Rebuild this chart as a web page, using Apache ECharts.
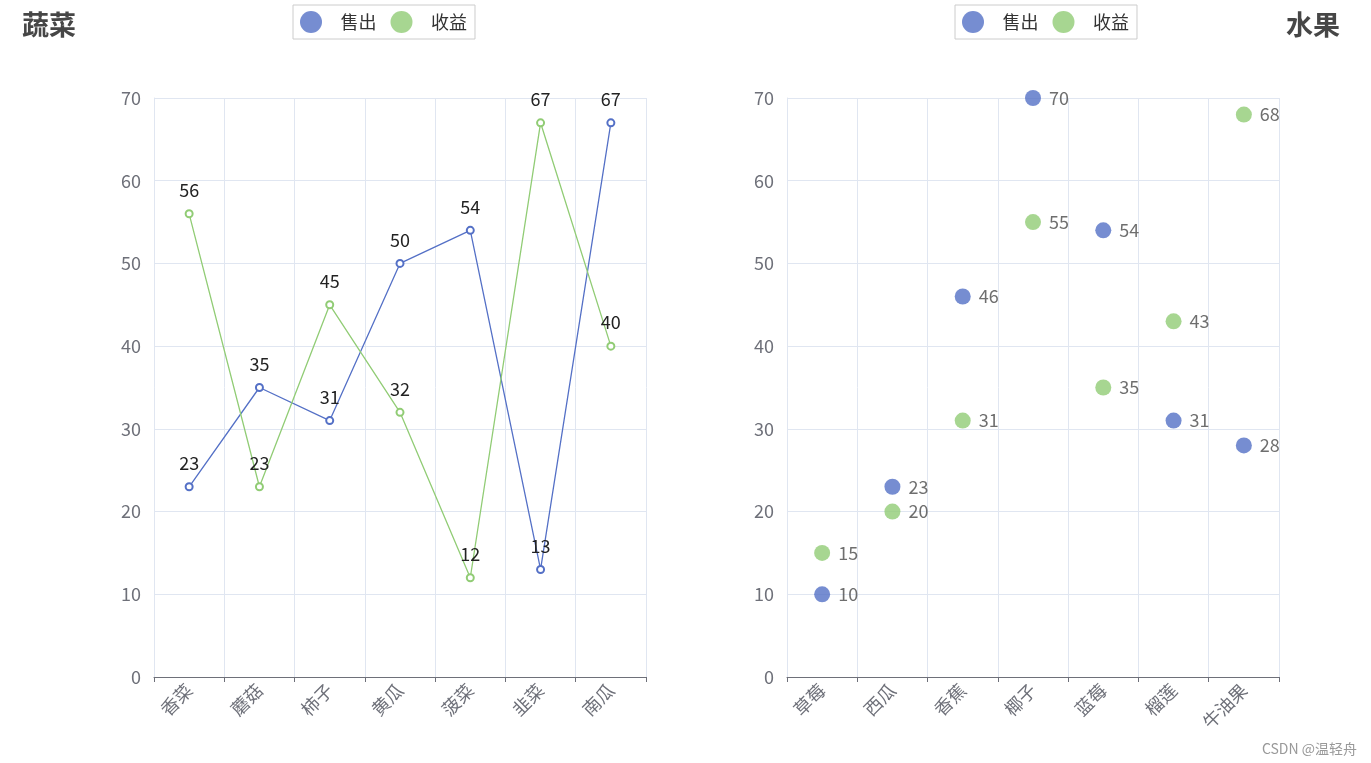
<!DOCTYPE html>
<html>
<head>
<meta charset="utf-8">
<script src="https://cdn.jsdelivr.net/npm/echarts@6/dist/echarts.min.js"></script>
<style>
html,body{margin:0;padding:0;background:#fff;}
#main{width:1371px;height:763px;}
</style>
</head>
<body>
<div id="main"></div>
<script>
const vegCategories = ['香菜', '蘑菇', '柿子', '黄瓜', '菠菜', '韭菜', '南瓜'];
const vegSold = [23, 35, 31, 50, 54, 13, 67];
const vegProfit = [56, 23, 45, 32, 12, 67, 40];
const fruitCategories = ['草莓', '西瓜', '香蕉', '椰子', '蓝莓', '榴莲', '牛油果'];
const fruitSold = [10, 23, 46, 70, 54, 31, 28];
const fruitProfit = [15, 20, 31, 55, 35, 43, 68];
const seriesNames = ['售出', '收益'];
const yTicks = [0, 10, 20, 30, 40, 50, 60, 70];

const FONT = '"Microsoft YaHei","Noto Sans CJK SC",sans-serif';
const chart = echarts.init(document.getElementById('main'));

const axisLabel = { fontSize: 18, color: '#6E7079', fontFamily: FONT };
function xAxis(gridIndex, data) {
  return {
    type: 'category', gridIndex, data,
    boundaryGap: true,
    axisTick: { show: true, alignWithLabel: false },
    axisLine: { lineStyle: { color: '#6E7079' } },
    splitLine: { show: true, lineStyle: { color: '#E0E6F1' } },
    axisLabel: Object.assign({ rotate: 45, margin: 10, interval: 0 }, axisLabel)
  };
}
function yAxis(gridIndex) {
  return {
    type: 'value', gridIndex, min: yTicks[0], max: yTicks[yTicks.length - 1], interval: 10,
    axisLine: { show: true, lineStyle: { color: '#E0E6F1' } },
    splitLine: { lineStyle: { color: '#E0E6F1' } },
    axisLabel: Object.assign({ margin: 13 }, axisLabel)
  };
}
const legendBase = {
  data: seriesNames,
  icon: 'circle',
  itemWidth: 25, itemHeight: 22,
  itemGap: 14,
  borderColor: '#ccc', borderWidth: 1,
  padding: [6, 8, 6, 7],
  top: 5,
  itemStyle: { opacity: 0.8 },
  textStyle: { fontSize: 18, color: '#333', fontFamily: FONT, padding: [0, 0, 0, 12] }
};
const lineLabel = { show: true, position: 'top', distance: 10, fontSize: 18, color: '#222', fontFamily: FONT };
const scatterLabel = { show: true, position: 'right', distance: 8, fontSize: 18, color: '#4a4a4a', fontFamily: FONT };

chart.setOption({
  color: ['#5470c6', '#91cc75'],
  title: [
    { text: '蔬菜', left: 17, top: 6, textStyle: { fontSize: 27, fontWeight: 'bold', color: '#464646', fontFamily: FONT } },
    { text: '水果', right: 26, top: 6, textStyle: { fontSize: 27, fontWeight: 'bold', color: '#464646', fontFamily: FONT } }
  ],
  legend: [
    Object.assign({ left: 293 }, legendBase),
    Object.assign({ left: 955 }, legendBase)
  ],
  grid: [
    { left: 154, right: 725, top: 98, bottom: 86 },
    { left: 787, right: 92, top: 98, bottom: 86 }
  ],
  xAxis: [xAxis(0, vegCategories), xAxis(1, fruitCategories)],
  yAxis: [yAxis(0), yAxis(1)],
  series: [
    { name: seriesNames[0], type: 'line', xAxisIndex: 0, yAxisIndex: 0, data: vegSold,
      symbol: 'emptyCircle', symbolSize: 7, itemStyle: { borderWidth: 2 }, lineStyle: { width: 1.3 }, label: lineLabel },
    { name: seriesNames[1], type: 'line', xAxisIndex: 0, yAxisIndex: 0, data: vegProfit,
      symbol: 'emptyCircle', symbolSize: 7, itemStyle: { borderWidth: 2 }, lineStyle: { width: 1.3 }, label: lineLabel },
    { name: seriesNames[0], type: 'scatter', xAxisIndex: 1, yAxisIndex: 1, data: fruitSold,
      symbolSize: 16, itemStyle: { opacity: 0.8 }, label: scatterLabel },
    { name: seriesNames[1], type: 'scatter', xAxisIndex: 1, yAxisIndex: 1, data: fruitProfit,
      symbolSize: 16, itemStyle: { opacity: 0.8 }, label: scatterLabel }
  ],
  graphic: [
    { type: 'text', right: 14, bottom: 7, style: { text: 'CSDN @温轻舟', fontSize: 14, fill: '#999', fontFamily: FONT } }
  ]
});
</script>
</body>
</html>
